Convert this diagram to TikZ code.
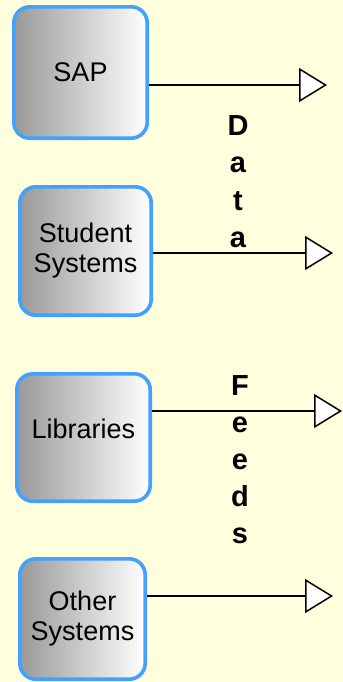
\documentclass[tikz,border=0pt]{standalone}
\usepackage{fontspec}
\setmainfont{Liberation Sans}
\usetikzlibrary{arrows.meta, positioning}
\definecolor{paper}{RGB}{255,255,221}
\definecolor{edgeblue}{RGB}{66,160,255}

\begin{document}
\begin{tikzpicture}[x=0.5pt, y=-0.5pt, >={Triangle[open,fill=white,length=14pt,width=17pt]},
	srcbox/.style={draw=edgeblue, line width=1.8pt, rounded corners=8pt, left color=black!40, right color=white, align=center, inner sep=0pt, font=\fontsize{13.5}{15}\selectfont},
	feed/.style={->, line width=0.75pt},
	letter/.style={anchor=base, inner sep=0pt, font=\fontsize{14.5}{16}\selectfont\bfseries}]
		\useasboundingbox (0,0) rectangle (343,682);
		\fill[paper] (0,0) rectangle (343,682);

		% sources
		\node[srcbox, minimum width=66.7pt, minimum height=65.7pt] (sap) at (80.5,72.5) {SAP};
		\node[srcbox, minimum width=65.7pt, minimum height=64.2pt] (student) at (85.5,251) {Student\\Systems};
		\node[srcbox, minimum width=66.7pt, minimum height=63.7pt] (lib) at (83.5,437.5) {\raisebox{9pt}{Libraries}};
		\node[srcbox, minimum width=62.7pt, minimum height=60.2pt] (other) at (82.5,619) {Other\\Systems};

		% feeds
		\coordinate (sapend) at (327,85); \draw[feed] (sap.east |- sapend) -- (sapend);
		\coordinate (studentend) at (333,253); \draw[feed] (student.east |- studentend) -- (studentend);
		\coordinate (libend) at (342,411); \draw[feed] (lib.east |- libend) -- (libend);
		\coordinate (otherend) at (333,596); \draw[feed] (other.east |- otherend) -- (otherend);

		% vertical caption
		\foreach \ch [count=\i] in {D,a,t,a} \node[letter] (data\i) at (238,97.5+37.5*\i) {\ch};
		\foreach \ch [count=\i] in {F,e,e,d,s} \node[letter] (feeds\i) at (240,358+37*\i) {\ch};
\end{tikzpicture}
\end{document}
